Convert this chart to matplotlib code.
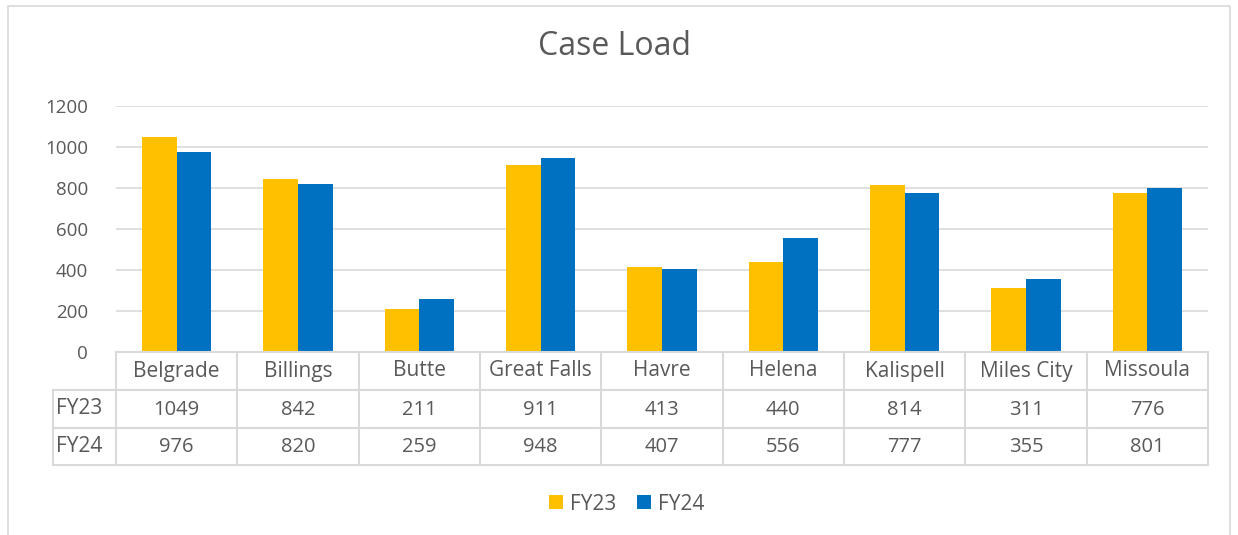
import matplotlib
matplotlib.use("Agg")
import matplotlib.pyplot as plt
from matplotlib.lines import Line2D
from matplotlib.patches import Rectangle
import numpy as np

plt.rcParams['font.family'] = ['Open Sans', 'DejaVu Sans']

title = "Case Load"
categories = ["Belgrade", "Billings", "Butte", "Great Falls", "Havre",
              "Helena", "Kalispell", "Miles City", "Missoula"]
series_names = ["FY23", "FY24"]
fy23 = [1049, 842, 211, 911, 413, 440, 814, 311, 776]
fy24 = [976, 820, 259, 948, 407, 556, 777, 355, 801]
yticks = [0, 200, 400, 600, 800, 1000, 1200]

colors = ["#FFC000", "#0070C0"]
text_color = "#595959"
grid_color = "#D9D9D9"

W, H = 1238, 535
fig = plt.figure(figsize=(W / 100, H / 100), dpi=100)

def fx(px):
    return px / W

def fy(py):
    return 1 - py / H

# outer chart border
fig.patches.append(Rectangle((fx(8), fy(545)), fx(1230) - fx(8), fy(6) - fy(545),
                             transform=fig.transFigure, fill=False,
                             edgecolor=grid_color, linewidth=1.2))

ax_l, ax_r, ax_t, ax_b = 116, 1208, 106, 352
ax = fig.add_axes([fx(ax_l), fy(ax_b), fx(ax_r) - fx(ax_l), fy(ax_t) - fy(ax_b)])

x = np.arange(len(categories))
bw = 0.285
ax.bar(x - bw / 2, fy23, width=bw, color=colors[0], label=series_names[0], zorder=3)
ax.bar(x + bw / 2, fy24, width=bw, color=colors[1], label=series_names[1], zorder=3)

ax.set_xlim(-0.5, len(categories) - 0.5)
ax.set_ylim(0, 1200)
ax.set_yticks(yticks)
ax.set_yticklabels([str(t) for t in yticks], color=text_color, fontsize=13.5)
ax.tick_params(axis='y', length=0, pad=20)
ax.set_xticks([])
ax.grid(axis='y', color=grid_color, linewidth=1.2, zorder=0)
for s in ax.spines.values():
    s.set_visible(False)

fig.text(fx(615), fy(47), title, ha='center', va='center', fontsize=23,
         color=text_color)

# data table
ncol = len(categories)
colw = (ax_r - ax_l) / ncol
rows_y = [352, 390, 428, 465]
lab_l = 53
lw = 1.5

def hline(x0, x1, y):
    fig.lines.append(Line2D([fx(x0), fx(x1)], [fy(y), fy(y)], transform=fig.transFigure,
                            color=grid_color, linewidth=lw))

def vline(xp, y0, y1):
    fig.lines.append(Line2D([fx(xp), fx(xp)], [fy(y0), fy(y1)], transform=fig.transFigure,
                            color=grid_color, linewidth=lw))

hline(ax_l, ax_r, rows_y[0])
for yy in rows_y[1:]:
    hline(lab_l, ax_r, yy)
for i in range(ncol + 1):
    vline(ax_l + i * colw, rows_y[0], rows_y[3])
vline(lab_l, rows_y[1], rows_y[3])

for i, c in enumerate(categories):
    cx = ax_l + (i + 0.5) * colw
    fig.text(fx(cx), fy((rows_y[0] + rows_y[1]) / 2), c, ha='center', va='center',
             fontsize=15, color=text_color)
    fig.text(fx(cx), fy((rows_y[1] + rows_y[2]) / 2 + 1), str(fy23[i]), ha='center',
             va='center', fontsize=14.5, color=text_color)
    fig.text(fx(cx), fy((rows_y[2] + rows_y[3]) / 2 + 1), str(fy24[i]), ha='center',
             va='center', fontsize=14.5, color=text_color)

for j, name in enumerate(series_names):
    fig.text(fx(lab_l + 3), fy((rows_y[j + 1] + rows_y[j + 2]) / 2), name, ha='left',
             va='center', fontsize=15, color=text_color)

# legend
leg = fig.legend(loc='center', bbox_to_anchor=(fx(627), fy(504)), ncol=2, frameon=False,
                 fontsize=15, handlelength=0.65, handleheight=0.65, handletextpad=0.35,
                 columnspacing=1.0, labelcolor=text_color)

fig.savefig("out.png", dpi=100)
